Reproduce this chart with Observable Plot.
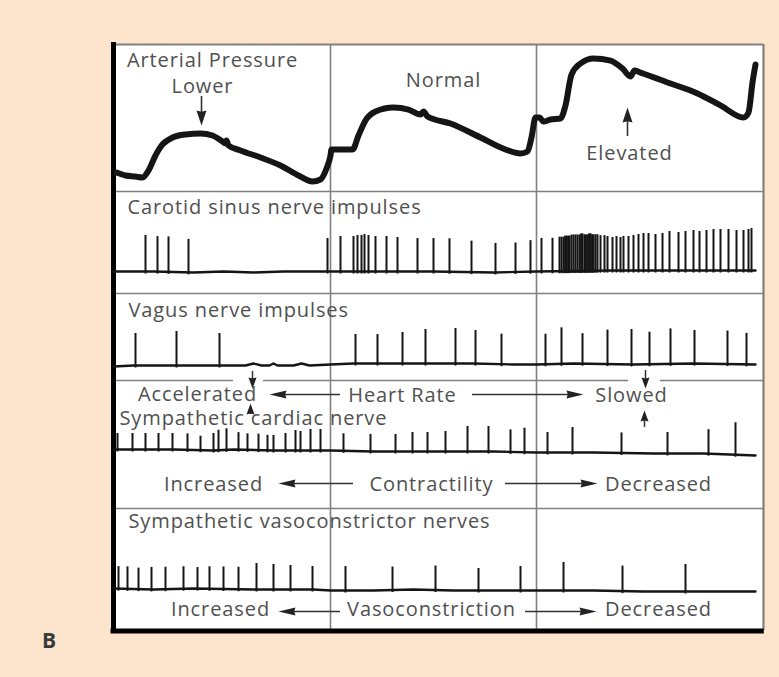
<!DOCTYPE html>
<html>
<head>
<meta charset="utf-8">
<script src="https://cdn.jsdelivr.net/npm/d3@7"></script>
<script src="https://cdn.jsdelivr.net/npm/@observablehq/plot@0.6"></script>
<style>
  html, body { margin: 0; padding: 0; background: #fde5cd; }
  #chart { width: 779px; height: 677px; }
</style>
</head>
<body>
<div id="chart"></div>
<script>
// ---- Arterial pressure trace (time in s, pressure in mmHg) ----
const pressureTime = [0.015, 0.06, 0.11, 0.145, 0.175, 0.21, 0.245, 0.295, 0.36, 0.435, 0.495, 0.545, 0.56, 0.565, 0.575, 0.635, 0.735, 0.835, 0.925, 0.995, 1.035, 1.065, 1.085, 1.09,
  1.135, 1.195, 1.225, 1.26, 1.31, 1.40, 1.475, 1.535, 1.55, 1.57, 1.685, 1.835, 1.96, 2.035, 2.07, 2.09, 2.11,
  2.13, 2.15, 2.185, 2.235, 2.26, 2.29, 2.335, 2.40, 2.485, 2.545, 2.585, 2.605, 2.635, 2.785, 2.92, 3.035, 3.15, 3.175, 3.195, 3.21];
const pressureValue = [63.8, 61.3, 60.4, 59.6, 65.5, 78.3, 87.7, 93.6, 96.2, 97.0, 95.3, 90.2, 88.5, 91.1, 86.8, 82.6, 76.6, 69.8, 61.3, 56.2, 57.9, 67.2, 78.3, 83.4,
  83.4, 83.4, 95.3, 108.1, 115.7, 119.1, 117.4, 113.2, 115.7, 111.5, 105.5, 93.6, 83.4, 80.0, 81.7, 93.6, 110.6,
  110.6, 107.2, 108.9, 109.8, 120.9, 147.2, 156.6, 160.9, 159.1, 152.3, 145.5, 150.6, 148.9, 139.6, 131.1, 120.9, 110.6, 114.9, 140.4, 155.7];

// ---- Carotid sinus nerve impulses (spike time, spike height) ----
const carotidTime = [0.16, 0.22, 0.275, 0.375,
  1.07, 1.135, 1.2, 1.22, 1.24, 1.255, 1.275, 1.31, 1.365, 1.42, 1.52, 1.6, 1.68, 1.79, 1.91, 2.01, 2.085,
  2.14, 2.195, 2.23, 2.24, 2.25, 2.258, 2.265, 2.273, 2.28, 2.29, 2.30, 2.31, 2.32, 2.33, 2.338, 2.345, 2.355, 2.362, 2.37, 2.378, 2.385, 2.393, 2.40, 2.41, 2.42, 2.435, 2.455, 2.47, 2.495, 2.515, 2.535, 2.55, 2.575, 2.60, 2.625, 2.65, 2.675, 2.71, 2.745, 2.78, 2.825, 2.86, 2.90, 2.93, 2.965, 3.00, 3.035, 3.075, 3.115, 3.15, 3.175, 3.19];
const carotidHeight = [36, 35, 35, 33,
  33, 35, 35, 36, 36, 37, 36, 35, 35, 34, 33, 33, 33, 31, 29, 29, 31,
  33, 33, 34, 34, 34, 35, 35, 35, 35, 36, 36, 36, 36, 36, 37, 37, 36, 36, 36, 37, 37, 36, 36, 36, 36, 35, 35, 34, 33, 34, 33, 34, 34, 35, 36, 37, 37, 36, 37, 39, 38, 39, 40, 39, 40, 41, 41, 41, 40, 40, 41, 42];
const carotidDriftTime = [0, 0.2, 0.4, 0.55, 0.7, 0.85, 1.085, 1.3, 1.6, 1.9, 2.115, 2.5, 2.9, 3.21];
const carotidDrift = [0, 0, 1, 0, 1, 0, 0, 0, 0, 1, 0, -1, -1, -1];

// ---- Vagus nerve impulses ----
const vagusTime = [0.11, 0.315, 0.53, 1.21, 1.32, 1.445, 1.56, 1.71, 1.81, 1.94,
  2.16, 2.24, 2.345, 2.47, 2.59, 2.68, 2.785, 2.905, 3.07, 3.165];
const vagusHeight = [32, 34, 32, 29, 29, 31, 34, 35, 33, 30,
  30, 36, 30, 34, 35, 32, 35, 33, 33, 31];
const vagusDriftTime = [0, 0.1, 0.3, 0.5, 0.66, 0.7, 0.74, 0.78, 0.8, 0.82, 0.9, 0.94, 0.98, 1.085, 1.2, 1.5, 1.8, 2.0, 2.115, 2.3, 2.6, 2.9, 3.21];
const vagusDrift = [2, 1, 1, 1, 1, -1, 1, 1, -1, 1, 1, -1, 1, 0, -1, -1, -1, 0, 0, -1, 0, -1, 0];

// ---- Sympathetic cardiac nerve ----
const cardiacTime = [0.02, 0.095, 0.16, 0.225, 0.295, 0.37, 0.435, 0.5, 0.525, 0.565, 0.625, 0.67, 0.725, 0.77, 0.8, 0.86, 0.91, 0.935, 0.985, 1.035,
  1.15, 1.285, 1.41, 1.495, 1.57, 1.66, 1.77, 1.875, 1.985, 2.055,
  2.17, 2.295, 2.54, 2.77, 2.975, 3.11];
const cardiacHeight = [16, 16, 16, 16, 16, 16, 14, 17, 20, 21, 17, 16, 16, 15, 15, 17, 20, 19, 21, 21,
  17, 17, 17, 19, 19, 20, 25, 25, 22, 24,
  20, 25, 20, 21, 24, 32];
const cardiacDriftTime = [0, 0.3, 0.5, 0.6, 0.8, 1.085, 1.3, 1.6, 1.9, 2.115, 2.4, 2.7, 2.95, 3.21];
const cardiacDrift = [-1, -1, 0, -1, 0, 0, 1, 1, 1, 2, 2, 3, 3, 5];

// ---- Sympathetic vasoconstrictor nerves ----
const vasoTime = [0.025, 0.07, 0.125, 0.19, 0.26, 0.35, 0.42, 0.48, 0.55, 0.625, 0.715, 0.8, 0.885, 0.995,
  1.16, 1.395, 1.61, 1.825, 2.035,
  2.25, 2.545, 2.86];
const vasoHeight = [22, 22, 21, 22, 22, 22, 21, 22, 22, 22, 26, 25, 24, 23,
  24, 23, 24, 22, 24,
  28, 25, 27];
const vasoDriftTime = [0, 0.2, 0.4, 0.7, 1.0, 1.085, 1.3, 1.5, 1.7, 1.9, 2.115, 2.4, 2.65, 2.9, 3.21];
const vasoDrift = [-1, 0, -1, 0, 0, 1, 1, 0, 1, 1, 1, 1, 2, 2, 2];

// ---- Text ----
const centeredLabels = ["Arterial Pressure", "Lower", "Normal", "Elevated",
  "Accelerated", "Heart Rate", "Slowed",
  "Increased", "Contractility", "Decreased",
  "Increased", "Vasoconstriction", "Decreased"];
const leftLabels = ["Carotid sinus nerve impulses", "Vagus nerve impulses",
  "Sympathetic cardiac nerve", "Sympathetic vasoconstrictor nerves"];
const panelLetter = "B";

// ---------------- layout ----------------
const FONT = "'Open Sans', 'DejaVu Sans', sans-serif";
const INK = "#151515";
const TEXT = "#505050";
const GRID = "#808080";
const SEC_PER_PX = 1 / 200;           // horizontal: 200 px per second
const END = 3.25;                     // right edge of the frame (s)
const TOP = 44, BOTTOM = 630;         // frame top/bottom
const PANEL_SPLITS = [1.085, 2.115];  // low | normal | elevated

// pressure -> vertical position of the top strip
const pressureY = p => 247 - 1.175 * p;

function driftScale(t, v) { return d3.scaleLinear().domain(t).range(v).clamp(true); }
function baseline(base, t, v) { return t.map((ti, i) => ({t: ti, y: base + v[i]})); }
function spikes(base, times, heights, dt, dv) {
  const lv = driftScale(dt, dv);
  return times.map((t, i) => ({t, y1: base + lv(t) + 2.5, y2: base + lv(t) - heights[i]}));
}

const rows = [
  {base: 271, times: carotidTime, heights: carotidHeight, dt: carotidDriftTime, dv: carotidDrift},
  {base: 364, times: vagusTime, heights: vagusHeight, dt: vagusDriftTime, dv: vagusDrift},
  {base: 450, times: cardiacTime, heights: cardiacHeight, dt: cardiacDriftTime, dv: cardiacDrift},
  {base: 589, times: vasoTime, heights: vasoHeight, dt: vasoDriftTime, dv: vasoDrift}
];

const pressure = pressureTime.map((t, i) => ({t, y: pressureY(pressureValue[i])}));

// label placements (x in s, y in layout units)
const centeredPos = [[0.495, 60], [0.445, 86], [1.65, 80], [2.58, 153],
  [0.42, 394], [1.445, 395], [2.59, 395],
  [0.5, 484], [1.59, 484], [2.725, 484],
  [0.535, 609], [1.59, 609], [2.725, 609]];
const leftPos = [[0.07, 207], [0.075, 310], [0.03, 418], [0.075, 521]];
const centered = centeredLabels.map((text, i) => ({text, t: centeredPos[i][0], y: centeredPos[i][1]}));
const lefts = leftLabels.map((text, i) => ({text, t: leftPos[i][0], y: leftPos[i][1]}));

// separators
const hLines = [
  {x1: 0, x2: END, y: 191}, {x1: 0, x2: END, y: 293},
  {x1: 0, x2: 0.6, y: 380}, {x1: 0.75, x2: 2.575, y: 380}, {x1: 2.735, x2: END, y: 380},
  {x1: 0, x2: END, y: 508}
];

// arrows: horizontal {y, tail, tip} in s; vertical {t, tail, tip} in layout units
const hArrows = [
  {y: 394, tail: 1.135, tip: 0.78}, {y: 394, tail: 1.795, tip: 2.35},
  {y: 483, tail: 1.2, tip: 0.825}, {y: 483, tail: 1.96, tip: 2.42},
  {y: 611, tail: 1.135, tip: 0.825}, {y: 611, tail: 2.06, tip: 2.415}
];
const vArrowsBig = [{t: 0.44, tail: 96, tip: 125}, {t: 2.57, tail: 136, tip: 107}];
const vArrowsSmall = [{t: 0.695, tail: 371, tip: 388}, {t: 0.685, tail: 414, tip: 403},
  {t: 2.66, tail: 370, tip: 388}, {t: 2.655, tail: 427, tip: 410}];

// filled dart pointing right, tip at the origin
function dart(len, hw) {
  return {draw(ctx) { ctx.moveTo(0, 0); ctx.lineTo(-len, -hw); ctx.lineTo(-len * 0.92, 0); ctx.lineTo(-len, hw); ctx.closePath(); }};
}
const H_LEN = 17, V_LEN = 15, S_LEN = 11;

const hShafts = hArrows.map(a => {
  const dir = Math.sign(a.tip - a.tail);
  return {y: a.y, x1: a.tail, x2: a.tip - dir * H_LEN * 0.8 * SEC_PER_PX};
});
const hHeads = hArrows.map(a => ({t: a.tip, y: a.y, angle: a.tip > a.tail ? 0 : 180}));
const vShaft = (arr, len) => arr.map(a => {
  const dir = Math.sign(a.tip - a.tail);
  return {t: a.t, y1: a.tail, y2: a.tip - dir * len * 0.8};
});
const vHeads = arr => arr.map(a => ({t: a.t, y: a.tip, angle: a.tip > a.tail ? 90 : -90}));

const marks = [
  // frame
  Plot.rect([{x1: 0, x2: END, y1: TOP, y2: BOTTOM}], {x1: "x1", x2: "x2", y1: "y1", y2: "y2", fill: "white"}),
  Plot.ruleY(hLines, {y: "y", x1: "x1", x2: "x2", stroke: GRID, strokeWidth: 1.6}),
  Plot.ruleX(PANEL_SPLITS, {y1: TOP, y2: BOTTOM, stroke: GRID, strokeWidth: 1.6}),
  Plot.ruleY([TOP], {x1: 0, x2: END, stroke: GRID, strokeWidth: 1.8}),
  Plot.ruleX([END], {y1: TOP, y2: BOTTOM, stroke: GRID, strokeWidth: 2.2}),
  Plot.ruleX([0], {y1: TOP - 2, y2: BOTTOM + 3, stroke: "#000", strokeWidth: 5}),
  Plot.ruleY([BOTTOM + 0.5], {x1: -0.0125, x2: END + 0.004, stroke: "#000", strokeWidth: 5}),

  // arterial pressure
  Plot.line(pressure, {x: "t", y: "y", stroke: INK, strokeWidth: 6, strokeLinejoin: "round", strokeLinecap: "round", curve: "monotone-x"}),
];

// nerve traces
for (const r of rows) {
  marks.push(Plot.line(baseline(r.base, r.dt, r.dv), {x: "t", y: "y", stroke: INK, strokeWidth: 2.4, curve: "linear"}));
  marks.push(Plot.ruleX(spikes(r.base, r.times, r.heights, r.dt, r.dv), {x: "t", y1: "y1", y2: "y2", stroke: INK, strokeWidth: 2}));
}

marks.push(
  // arrows
  Plot.ruleY(hShafts, {y: "y", x1: "x1", x2: "x2", stroke: "#333", strokeWidth: 1.6}),
  Plot.dot(hHeads, {x: "t", y: "y", rotate: "angle", symbol: dart(H_LEN, 4), fill: "#222", stroke: "none"}),
  Plot.ruleX(vShaft(vArrowsBig, V_LEN), {x: "t", y1: "y1", y2: "y2", stroke: "#333", strokeWidth: 1.6}),
  Plot.dot(vHeads(vArrowsBig), {x: "t", y: "y", rotate: "angle", symbol: dart(V_LEN, 5), fill: "#222", stroke: "none"}),
  Plot.ruleX(vShaft(vArrowsSmall, S_LEN), {x: "t", y1: "y1", y2: "y2", stroke: "#333", strokeWidth: 1.5}),
  Plot.dot(vHeads(vArrowsSmall), {x: "t", y: "y", rotate: "angle", symbol: dart(S_LEN, 4), fill: "#222", stroke: "none"}),

  // text
  Plot.text(centered, {x: "t", y: "y", text: "text", textAnchor: "middle", fontSize: 20, fill: TEXT}),
  Plot.text(lefts, {x: "t", y: "y", text: "text", textAnchor: "start", fontSize: 20, fill: TEXT}),
  Plot.text([panelLetter], {x: -0.32, y: 641, text: d => d, fontSize: 21, fontWeight: "bold", fill: "#3a3a3a"})
);

const chart = Plot.plot({
  width: 779,
  height: 677,
  margin: 0,
  x: {domain: [0, END], range: [113, 763], axis: null},
  y: {domain: [0, 677], range: [0, 677], axis: null},
  style: {background: "transparent", fontFamily: FONT, letterSpacing: "0.9px", overflow: "visible"},
  marks
});
document.getElementById("chart").appendChild(chart);
</script>
</body>
</html>
